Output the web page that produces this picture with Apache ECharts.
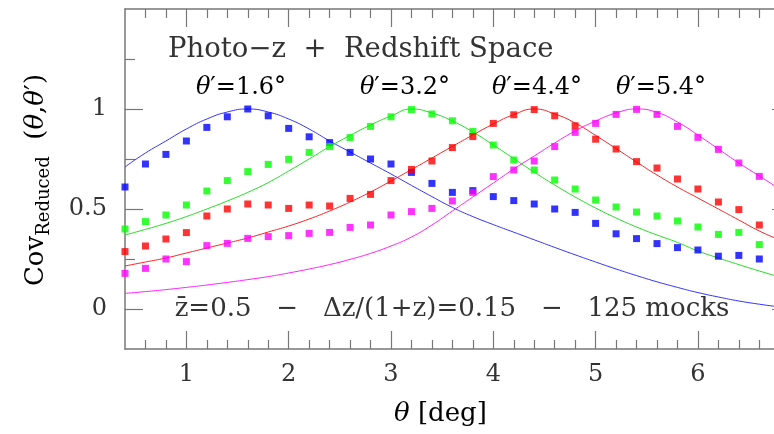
<!DOCTYPE html>
<html>
<head>
<meta charset="utf-8">
<script src="https://cdn.jsdelivr.net/npm/echarts@6/dist/echarts.min.js"></script>
<style>
html, body { margin: 0; padding: 0; background: #fff; }
#chart { width: 774px; height: 434px; }
</style>
</head>
<body>
<div id="chart"></div>
<script>
// theta values of the mock measurements (deg)
var thetaX = [0.4, 0.6, 0.8, 1.0, 1.2, 1.4, 1.6, 1.8, 2.0, 2.2, 2.4, 2.6, 2.8, 3.0, 3.2, 3.4,
  3.6, 3.8, 4.0, 4.2, 4.4, 4.6, 4.8, 5.0, 5.2, 5.4, 5.6, 5.8, 6.0, 6.2, 6.4, 6.6];

// mocks (squares)
var mock16 = [0.61, 0.725, 0.773, 0.84, 0.908, 0.961, 1.0, 0.966, 0.903, 0.861, 0.832, 0.783, 0.75, 0.725, 0.683, 0.628,
  0.583, 0.592, 0.562, 0.542, 0.525, 0.5, 0.483, 0.428, 0.376, 0.352, 0.327, 0.307, 0.295, 0.264, 0.268, 0.25];
var mock32 = [0.40, 0.437, 0.47, 0.52, 0.59, 0.642, 0.687, 0.723, 0.748, 0.783, 0.812, 0.857, 0.913, 0.961, 0.997, 0.975,
  0.941, 0.888, 0.82, 0.745, 0.695, 0.645, 0.6, 0.545, 0.51, 0.485, 0.465, 0.44, 0.41, 0.373, 0.383, 0.322];
var mock44 = [0.287, 0.315, 0.35, 0.382, 0.465, 0.5, 0.525, 0.52, 0.503, 0.52, 0.515, 0.553, 0.573, 0.642, 0.698, 0.74,
  0.807, 0.862, 0.928, 0.971, 0.997, 0.966, 0.916, 0.849, 0.8, 0.737, 0.705, 0.65, 0.6, 0.535, 0.497, 0.42];
var mock54 = [0.178, 0.203, 0.25, 0.237, 0.317, 0.328, 0.353, 0.362, 0.367, 0.378, 0.383, 0.408, 0.42, 0.47, 0.487, 0.503,
  0.54, 0.583, 0.662, 0.695, 0.74, 0.812, 0.883, 0.928, 0.973, 0.998, 0.973, 0.913, 0.858, 0.798, 0.73, 0.663];

// theory (lines)
var curveX = [0.4, 0.6, 0.8, 1.0, 1.2, 1.4, 1.6, 1.8, 2.0, 2.2, 2.4, 2.6, 2.8, 3.0, 3.2, 3.4,
  3.6, 3.8, 4.0, 4.2, 4.4, 4.6, 4.8, 5.0, 5.2, 5.4, 5.6, 5.8, 6.0, 6.2, 6.4, 6.6, 6.8];
var model16 = [0.71, 0.78, 0.84, 0.90, 0.95, 0.985, 1.0, 0.985, 0.95, 0.90, 0.84, 0.785, 0.73, 0.675, 0.618, 0.562,
  0.508, 0.462, 0.422, 0.384, 0.346, 0.308, 0.271, 0.235, 0.20, 0.167, 0.136, 0.108, 0.082, 0.06, 0.04, 0.024, 0.01];
var model32 = [0.37, 0.398, 0.428, 0.462, 0.50, 0.54, 0.583, 0.632, 0.69, 0.75, 0.812, 0.868, 0.92, 0.965, 1.0, 0.98,
  0.94, 0.885, 0.82, 0.752, 0.684, 0.62, 0.56, 0.505, 0.455, 0.41, 0.37, 0.333, 0.29, 0.255, 0.222, 0.19, 0.16];
var model44 = [0.215, 0.235, 0.255, 0.28, 0.305, 0.33, 0.355, 0.385, 0.415, 0.45, 0.49, 0.535, 0.585, 0.64, 0.697, 0.755,
  0.813, 0.87, 0.925, 0.972, 1.0, 0.975, 0.93, 0.868, 0.802, 0.735, 0.67, 0.61, 0.555, 0.50, 0.445, 0.39, 0.345];
var model54 = [0.078, 0.087, 0.097, 0.108, 0.12, 0.133, 0.147, 0.162, 0.18, 0.20, 0.222, 0.248, 0.278, 0.315, 0.36, 0.42,
  0.49, 0.56, 0.63, 0.70, 0.765, 0.83, 0.89, 0.94, 0.98, 1.0, 0.983, 0.935, 0.87, 0.80, 0.73, 0.665, 0.60];

// ticks
var xMajor = [1, 2, 3, 4, 5, 6];
var xMinor = [0.6, 0.8, 1.2, 1.4, 1.6, 1.8, 2.2, 2.4, 2.6, 2.8, 3.2, 3.4, 3.6, 3.8, 4.2, 4.4, 4.6, 4.8,
  5.2, 5.4, 5.6, 5.8, 6.2, 6.4, 6.6, 6.8];
var yMajor = [0, 0.5, 1];
var yMinor = [0.25, 0.75, 1.25];

var seriesNames = ["θ'=1.6", "θ'=3.2", "θ'=4.4", "θ'=5.4"];
var pointColors = ['#0000ff', '#00ff00', '#ff0000', '#ff00ff'];
var lineColors = ['#3333ff', '#22dd22', '#ff2222', '#ff22ff'];

var FONT = 'DejaVu Serif';
var INK = '#333';
var FRAME = '#777';

function pairs(xs, ys) {
  return xs.map(function (x, i) { return [x, ys[i]]; });
}

function xAx(pos, ticks, len, withLine, withLabel) {
  return {
    type: 'value', position: pos, min: 0.4, max: 6.9,
    axisLine: { show: withLine, onZero: false, lineStyle: { color: FRAME, width: 1.5 } },
    axisTick: { show: true, inside: true, length: len, customValues: ticks, lineStyle: { color: FRAME, width: 1.2 } },
    axisLabel: { show: withLabel, customValues: ticks, margin: 14, fontFamily: FONT, fontSize: 24, color: INK },
    splitLine: { show: false }
  };
}
function yAx(pos, ticks, len, withLine, withLabel) {
  return {
    type: 'value', position: pos, min: -0.2, max: 1.5,
    axisLine: { show: withLine, onZero: false, lineStyle: { color: FRAME, width: 1.5 } },
    axisTick: { show: true, inside: true, length: len, customValues: ticks, lineStyle: { color: FRAME, width: 1.2 } },
    axisLabel: { show: withLabel, customValues: ticks, margin: 18, fontFamily: FONT, fontSize: 24, color: INK,
      formatter: function (v) { return String(v); } },
    splitLine: { show: false }
  };
}

var series = [];
var models = [model16, model32, model44, model54];
var mocks = [mock16, mock32, mock44, mock54];
for (var k = 0; k < 4; k++) {
  series.push({
    name: seriesNames[k] + ' model', type: 'line', smooth: 0.5, showSymbol: false,
    data: pairs(curveX, models[k]), lineStyle: { color: lineColors[k], width: 1 }, z: 2
  });
}
for (var k = 0; k < 4; k++) {
  series.push({
    name: seriesNames[k] + ' mocks', type: 'scatter', symbol: 'rect', symbolSize: 7,
    data: pairs(thetaX, mocks[k]), itemStyle: { color: pointColors[k] }, z: 3
  });
}

var rich = {
  i: { fontFamily: FONT, fontSize: 24, fontStyle: 'italic', color: INK },
  n: { fontFamily: FONT, fontSize: 24, color: INK }
};
function thetaLabel(x, txt) {
  return {
    type: 'text', x: x, y: 88,
    style: { text: '{i|θ}{n|′=' + txt + '°}', rich: rich, align: 'center', verticalAlign: 'middle' }
  };
}

var chart = echarts.init(document.getElementById('chart'));
chart.setOption({
  backgroundColor: '#fff',
  animation: false,
  grid: { left: 125, top: 9, width: 665, height: 340, outerBoundsMode: 'none', containLabel: false },
  xAxis: [
    xAx('bottom', xMajor, 18, true, true),
    xAx('bottom', xMinor, 9, false, false),
    xAx('top', xMajor, 18, true, false),
    xAx('top', xMinor, 9, false, false)
  ],
  yAxis: [
    yAx('left', yMajor, 18, true, true),
    yAx('left', yMinor, 10, false, false),
    yAx('right', yMajor, 18, true, false),
    yAx('right', yMinor, 10, false, false)
  ],
  series: series,
  graphic: [
    {
      type: 'text', x: 168, y: 50,
      style: { text: 'Photo−z  +  Redshift Space', fontFamily: FONT, fontSize: 27.5, fill: INK, align: 'left', verticalAlign: 'middle' }
    },
    thetaLabel(241, '1.6'),
    thetaLabel(405, '3.2'),
    thetaLabel(537, '4.4'),
    thetaLabel(661, '5.4'),
    {
      type: 'text', x: 452, y: 309,
      style: { text: 'z\u0304=0.5   −   Δz/(1+z)=0.15   −   125 mocks', fontFamily: FONT, fontSize: 26, fill: INK,
        align: 'center', verticalAlign: 'middle' }
    },
    {
      type: 'text', x: 394, y: 414,
      style: { text: '{i|θ}{n| [deg]}', rich: {
        i: { fontFamily: FONT, fontSize: 26, fontStyle: 'italic', color: INK },
        n: { fontFamily: FONT, fontSize: 26, color: INK }
      }, align: 'left', verticalAlign: 'middle' }
    },
    {
      type: 'text', x: 38, y: 180, rotation: Math.PI / 2,
      style: {
        text: '{c|Cov}{s|Reduced}{c|  (}{i|θ}{c|,}{i|θ}{c|′)}',
        rich: {
          c: { fontFamily: FONT, fontSize: 26, color: INK, lineHeight: 30, verticalAlign: 'top' },
          i: { fontFamily: FONT, fontSize: 26, fontStyle: 'italic', color: INK, lineHeight: 30, verticalAlign: 'top' },
          s: { fontFamily: FONT, fontSize: 18, color: INK, lineHeight: 14, verticalAlign: 'bottom' }
        },
        align: 'center', verticalAlign: 'middle'
      }
    }
  ]
});
</script>
</body>
</html>
